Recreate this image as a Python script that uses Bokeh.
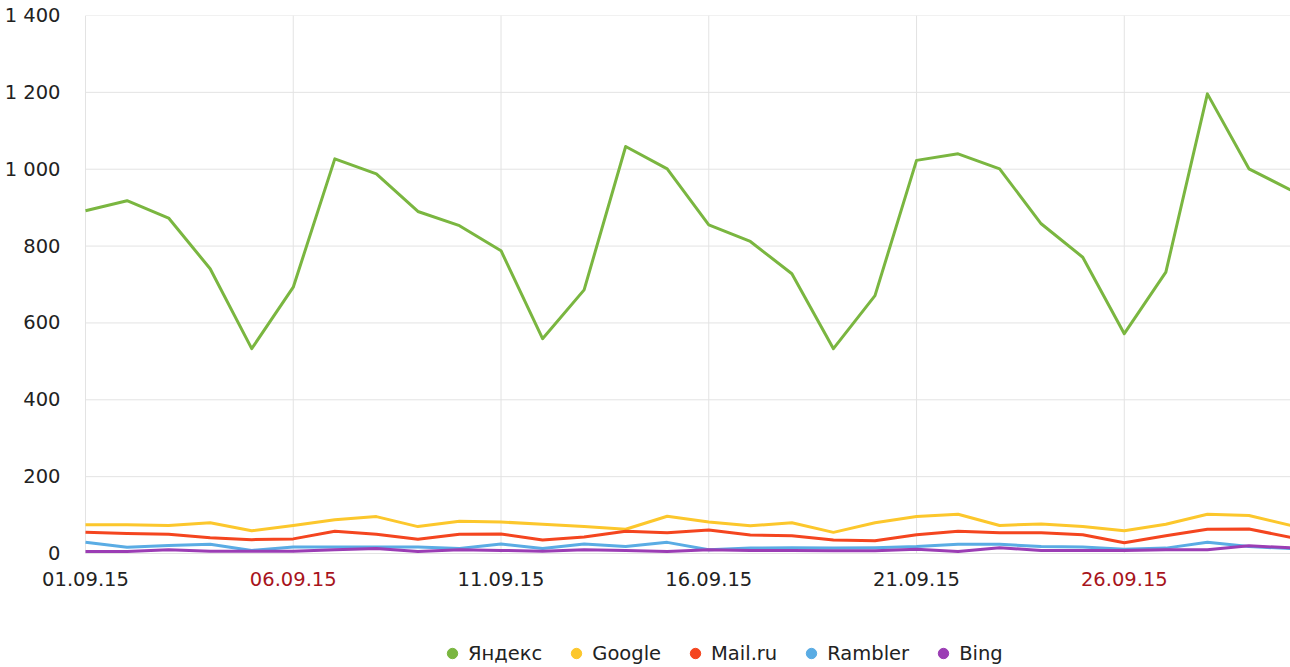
from bokeh.plotting import figure
from bokeh.models import (Range1d, FixedTicker, Legend, LegendItem, ColumnDataSource)
from bokeh.core.properties import value
from bokeh.embed import file_html
from bokeh.resources import INLINE

days = list(range(1, 31))
tick_days = [1, 6, 11, 16, 21, 26]
tick_labels = ["01.09.15", "06.09.15", "11.09.15", "16.09.15", "21.09.15", "26.09.15"]
tick_colors = ["#222222", "#a8141c", "#222222", "#222222", "#222222", "#a8141c"]
y_ticks = [0, 200, 400, 600, 800, 1000, 1200, 1400]
y_tick_labels = ["0", "200", "400", "600", "800", "1 000", "1 200", "1 400"]

yandex = [892, 918, 873, 741, 533, 693, 1027, 988, 890, 853,
          788, 559, 686, 1059, 1001, 855, 812, 728, 533, 671,
          1023, 1040, 1001, 858, 771, 572, 732, 1196, 1001, 946]
google = [75, 75, 73, 80, 59, 73, 88, 96, 70, 84,
          82, 76, 70, 63, 97, 82, 72, 80, 55, 80,
          96, 102, 73, 77, 70, 59, 76, 102, 99, 73]
mailru = [55, 52, 50, 41, 36, 38, 58, 50, 37, 50,
          51, 35, 43, 58, 54, 61, 48, 46, 35, 33,
          49, 58, 54, 54, 49, 28, 46, 63, 64, 42]
rambler = [29, 16, 21, 24, 8, 17, 17, 17, 17, 13,
           25, 13, 25, 18, 29, 10, 14, 15, 14, 15,
           18, 24, 24, 18, 17, 11, 14, 29, 18, 13]
bing = [5, 5, 10, 6, 6, 6, 10, 13, 5, 10,
        8, 6, 10, 8, 5, 10, 8, 8, 7, 7,
        11, 5, 15, 8, 8, 8, 10, 10, 20, 15]

names = ["Яндекс", "Google", "Mail.ru", "Rambler", "Bing"]
colors = ["#7ab640", "#fcc72c", "#f4451f", "#5aace4", "#9b3db4"]
series = [yandex, google, mailru, rambler, bing]

FONT = "DejaVu Sans"
FS = "19.5px"
GRID = "#e3e3e3"

# layout geometry (pixels)
W, H = 1290, 667
TOP = 15
FRAME_LEFT = 35            # frame starts here so the first date label is not clipped
DATA_LEFT = 85             # pixel where day 1 sits
PLOT_PX = 538              # pixels from 0 to 1400
Y_MAX = y_ticks[-1]
UNIT = Y_MAX / PLOT_PX     # data units per pixel (y)
Y_MIN = -(H - TOP - PLOT_PX) * UNIT
DAY_PX = (W - DATA_LEFT) / (days[-1] - days[0])
X_MIN = days[0] - (DATA_LEFT - FRAME_LEFT) / DAY_PX

p = figure(width=W, height=H, output_backend="svg", toolbar_location=None,
           x_range=Range1d(X_MIN, days[-1]), y_range=Range1d(Y_MIN, Y_MAX),
           min_border_left=FRAME_LEFT, min_border_right=0, min_border_top=TOP,
           min_border_bottom=0)
p.outline_line_color = None
p.background_fill_color = "white"
p.border_fill_color = "white"

p.xaxis.visible = False
p.xgrid.visible = False
p.ygrid.visible = False

p.yaxis.ticker = FixedTicker(ticks=y_ticks)
p.yaxis.major_label_overrides = {t: l for t, l in zip(y_ticks, y_tick_labels)}
p.yaxis.axis_line_color = None
p.yaxis.major_tick_line_color = None
p.yaxis.minor_tick_line_color = None
p.yaxis.major_tick_out = 0
p.yaxis.major_tick_in = 0
p.yaxis.major_label_standoff = -(DATA_LEFT - FRAME_LEFT - 25)
p.yaxis.major_label_text_font = FONT
p.yaxis.major_label_text_font_size = FS
p.yaxis.major_label_text_color = "#222222"

# horizontal grid lines over the data span
n = len(y_ticks)
p.segment(x0=[days[0]] * n, y0=y_ticks, x1=[days[-1]] * n, y1=y_ticks,
          line_color=GRID, line_width=1)
# vertical grid lines, only within the value area
m = len(tick_days)
p.segment(x0=tick_days, y0=[0] * m, x1=tick_days, y1=[Y_MAX] * m,
          line_color=GRID, line_width=1)

# x tick labels (per-label colour)
src = ColumnDataSource(dict(x=tick_days, y=[-25 * UNIT] * m,
                            t=tick_labels, c=tick_colors))
p.text(x="x", y="y", text="t", text_color="c", source=src,
       text_align="center", text_baseline="middle",
       text_font=value(FONT), text_font_size=value(FS))

nan = float("nan")
items = []
for name, col, ys in zip(names, colors, series):
    p.line(days, ys, line_color=col, line_width=3, line_join="round")
    dummy = p.scatter(x=[nan], y=[nan], marker="circle", fill_color=col,
                      line_color=col)
    items.append(LegendItem(label=name, renderers=[dummy]))

legend = Legend(items=items, orientation="horizontal",
                location=(439 - FRAME_LEFT, 1),
                border_line_color=None, background_fill_alpha=0,
                glyph_width=26, glyph_height=26, label_standoff=3,
                spacing=21, padding=0, margin=0,
                label_text_font=FONT, label_text_font_size=FS,
                label_text_color="#222222")
p.add_layout(legend, "center")

open("out.html", "w").write(file_html(p, INLINE))
